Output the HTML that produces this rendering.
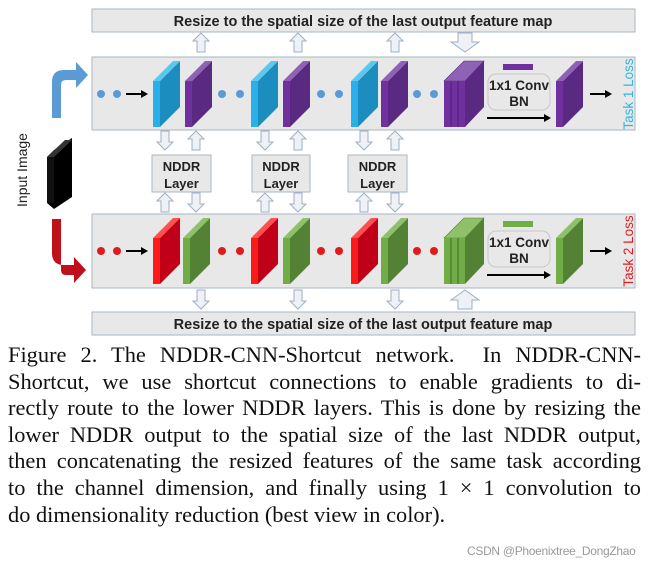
<!DOCTYPE html>
<html><head><meta charset="utf-8"><style>
html,body{margin:0;padding:0;background:#fff;width:650px;height:570px;overflow:hidden;position:relative}
svg{position:absolute;left:0;top:0}
.cap{position:absolute;left:8px;top:342px;width:633px;font-family:"Liberation Serif",serif;font-size:22.4px;line-height:26.6px;color:#111}
.cap div{white-space:nowrap;text-align:justify;text-align-last:justify}
.cap div.l{text-align-last:left}
.wm{position:absolute;left:467px;top:544px;font-family:"Liberation Sans",sans-serif;font-size:12px;color:#999;letter-spacing:-0.3px}
</style></head><body>
<svg width="650" height="340" viewBox="0 0 650 340" font-family="Liberation Sans, sans-serif">
<defs>
<g id="hu"><path d="M-4,17 L-4,6 L-8,6 L0,-2 L8,6 L4,6 L4,17 Z" fill="#eef1f5" stroke="#9fb0c4" stroke-width="1"/></g>
<g id="hd"><path d="M-4,-2 L-4,9 L-8,9 L0,17 L8,9 L4,9 L4,-2 Z" fill="#eef1f5" stroke="#9fb0c4" stroke-width="1"/></g>
<g id="bu"><path d="M-7,17 L-7,8 L-14,8 L0,-2 L14,8 L7,8 L7,17 Z" fill="#eef1f5" stroke="#9fb0c4" stroke-width="1"/></g>
<g id="bd"><path d="M-7,-2 L-7,7 L-14,7 L0,17 L14,7 L7,7 L7,-2 Z" fill="#eef1f5" stroke="#9fb0c4" stroke-width="1"/></g>
</defs>
<rect x="92" y="9" width="543" height="23" fill="#e8e8e8" stroke="#a9b6c6"/>
<text x="363" y="26" font-size="14.5" font-weight="bold" text-anchor="middle" fill="#222">Resize to the spatial size of the last output feature map</text>
<rect x="92" y="312" width="543" height="23" fill="#e8e8e8" stroke="#a9b6c6"/>
<text x="363" y="329" font-size="14.5" font-weight="bold" text-anchor="middle" fill="#222">Resize to the spatial size of the last output feature map</text>
<rect x="92" y="57" width="543" height="73" fill="#e8e8e8" stroke="#a9b6c6"/>
<rect x="92" y="214" width="543" height="74" fill="#e8e8e8" stroke="#a9b6c6"/>
<g font-size="13" font-weight="bold" fill="#222" text-anchor="middle">
<rect x="152" y="155" width="59" height="37" fill="#e8e8e8" stroke="#a9b6c6"/><text x="181.5" y="171">NDDR</text><text x="181.5" y="188">Layer</text>
<rect x="252" y="155" width="58" height="37" fill="#e8e8e8" stroke="#a9b6c6"/><text x="281" y="171">NDDR</text><text x="281" y="188">Layer</text>
<rect x="348" y="155" width="59" height="37" fill="#e8e8e8" stroke="#a9b6c6"/><text x="377.5" y="171">NDDR</text><text x="377.5" y="188">Layer</text>
</g>
<use href="#hu" x="201" y="35"/><use href="#hu" x="298" y="35"/><use href="#hu" x="395" y="35"/><use href="#bd" x="465" y="35"/>
<use href="#hd" x="165" y="133"/><use href="#hu" x="196" y="133"/>
<use href="#hd" x="265" y="133"/><use href="#hu" x="298" y="133"/>
<use href="#hd" x="364" y="133"/><use href="#hu" x="395" y="133"/>
<use href="#hu" x="165" y="195"/><use href="#hd" x="196" y="195"/>
<use href="#hu" x="265" y="195"/><use href="#hd" x="298" y="195"/>
<use href="#hu" x="364" y="195"/><use href="#hd" x="395" y="195"/>
<use href="#hd" x="201" y="292"/><use href="#hd" x="298" y="292"/><use href="#hd" x="395" y="292"/><use href="#bu" x="465" y="292"/>
<text transform="translate(27,170) rotate(-90)" font-size="14" text-anchor="middle" fill="#222">Input Image</text>
<path d="M47,157 L54,150 L72,138 L72,197 L54,209 L47,203 Z" fill="#000"/>
<path d="M47,157 L65,140 L72,140 L54,157 Z" fill="#333"/>
<rect x="47" y="157" width="7" height="46" fill="#111"/>
<path d="M52,118 L52,82 Q52,70 64,70 L76,70 L76,62 L88,75 L76,88 L76,80 L66,80 Q61,80 61,85 L61,118 Z" fill="#5b9bd5"/>
<path d="M52,224 L52,258 Q52,270 64,270 L74,270 L74,262 L86,275 L74,288 L74,280 L66,280 Q61,280 61,275 L61,224 Z" fill="#c0101b" transform="translate(0,-5)"/>
<g fill="#5b9bd5"><circle cx="101" cy="94" r="4"/><circle cx="117" cy="94" r="4"/><circle cx="222" cy="94" r="4"/><circle cx="240" cy="94" r="4"/><circle cx="321" cy="94" r="4"/><circle cx="339" cy="94" r="4"/><circle cx="417" cy="94" r="4"/><circle cx="434" cy="94" r="4"/></g>
<g fill="#e31a1c"><circle cx="101" cy="251" r="4"/><circle cx="117" cy="251" r="4"/><circle cx="222" cy="251" r="4"/><circle cx="240" cy="251" r="4"/><circle cx="321" cy="251" r="4"/><circle cx="339" cy="251" r="4"/><circle cx="417" cy="251" r="4"/><circle cx="434" cy="251" r="4"/></g>
<g stroke="#000" stroke-width="2"><line x1="126" y1="94" x2="142" y2="94"/><line x1="126" y1="251" x2="142" y2="251"/>
<line x1="487" y1="118" x2="545" y2="118"/><line x1="487" y1="275" x2="545" y2="275"/>
<line x1="590" y1="94" x2="606" y2="94"/><line x1="590" y1="251" x2="606" y2="251"/></g>
<g fill="#000"><path d="M148,94 l-7,-4 v8z"/><path d="M148,251 l-7,-4 v8z"/><path d="M551,118 l-7,-4 v8z"/><path d="M551,275 l-7,-4 v8z"/><path d="M612,94 l-7,-4 v8z"/><path d="M612,251 l-7,-4 v8z"/></g>
<g>
<g><path d="M160,81 L180,61 L180,107 L160,127Z" fill="#1b8dbf"/><path d="M153,81 L173,61 L180,61 L160,81Z" fill="#5cc8f0"/><rect x="153" y="81" width="7" height="46" fill="#29b0ea"/></g>
<g transform="translate(98,0)"><path d="M160,81 L180,61 L180,107 L160,127Z" fill="#1b8dbf"/><path d="M153,81 L173,61 L180,61 L160,81Z" fill="#5cc8f0"/><rect x="153" y="81" width="7" height="46" fill="#29b0ea"/></g>
<g transform="translate(198,0)"><path d="M160,81 L180,61 L180,107 L160,127Z" fill="#1b8dbf"/><path d="M153,81 L173,61 L180,61 L160,81Z" fill="#5cc8f0"/><rect x="153" y="81" width="7" height="46" fill="#29b0ea"/></g>
</g>
<g>
<g transform="translate(32,0)"><path d="M160,81 L180,61 L180,107 L160,127Z" fill="#5a2a82"/><path d="M153,81 L173,61 L180,61 L160,81Z" fill="#8e63b5"/><rect x="153" y="81" width="7" height="46" fill="#7030a0"/></g>
<g transform="translate(130,0)"><path d="M160,81 L180,61 L180,107 L160,127Z" fill="#5a2a82"/><path d="M153,81 L173,61 L180,61 L160,81Z" fill="#8e63b5"/><rect x="153" y="81" width="7" height="46" fill="#7030a0"/></g>
<g transform="translate(228,0)"><path d="M160,81 L180,61 L180,107 L160,127Z" fill="#5a2a82"/><path d="M153,81 L173,61 L180,61 L160,81Z" fill="#8e63b5"/><rect x="153" y="81" width="7" height="46" fill="#7030a0"/></g>
<g transform="translate(403,0)"><path d="M160,81 L180,61 L180,107 L160,127Z" fill="#5a2a82"/><path d="M153,81 L173,61 L180,61 L160,81Z" fill="#8e63b5"/><rect x="153" y="81" width="7" height="46" fill="#7030a0"/></g>
<path d="M465,81 L484,61 L484,107 L465,127Z" fill="#5a2a82"/>
<path d="M444,81 L464,61 L484,61 L465,81Z" fill="#8e63b5" stroke="#5a2a82" stroke-width="0.6"/>
<rect x="444" y="81" width="21" height="46" fill="#7030a0"/>
<line x1="451" y1="81" x2="451" y2="127" stroke="#4a1f6e"/><line x1="458" y1="81" x2="458" y2="127" stroke="#4a1f6e"/>
<rect x="503" y="64" width="30" height="6" fill="#7030a0"/>
</g>
<g transform="translate(0,157)">
<g><path d="M160,81 L180,61 L180,107 L160,127Z" fill="#c00018"/><path d="M153,81 L173,61 L180,61 L160,81Z" fill="#ff5050"/><rect x="153" y="81" width="7" height="46" fill="#ff1a1a"/></g>
<g transform="translate(98,0)"><path d="M160,81 L180,61 L180,107 L160,127Z" fill="#c00018"/><path d="M153,81 L173,61 L180,61 L160,81Z" fill="#ff5050"/><rect x="153" y="81" width="7" height="46" fill="#ff1a1a"/></g>
<g transform="translate(198,0)"><path d="M160,81 L180,61 L180,107 L160,127Z" fill="#c00018"/><path d="M153,81 L173,61 L180,61 L160,81Z" fill="#ff5050"/><rect x="153" y="81" width="7" height="46" fill="#ff1a1a"/></g>
<g transform="translate(30,0)"><path d="M160,81 L180,61 L180,107 L160,127Z" fill="#548235"/><path d="M153,81 L173,61 L180,61 L160,81Z" fill="#8fc06a"/><rect x="153" y="81" width="7" height="46" fill="#70ad47"/></g>
<g transform="translate(130,0)"><path d="M160,81 L180,61 L180,107 L160,127Z" fill="#548235"/><path d="M153,81 L173,61 L180,61 L160,81Z" fill="#8fc06a"/><rect x="153" y="81" width="7" height="46" fill="#70ad47"/></g>
<g transform="translate(228,0)"><path d="M160,81 L180,61 L180,107 L160,127Z" fill="#548235"/><path d="M153,81 L173,61 L180,61 L160,81Z" fill="#8fc06a"/><rect x="153" y="81" width="7" height="46" fill="#70ad47"/></g>
<g transform="translate(403,0)"><path d="M160,81 L180,61 L180,107 L160,127Z" fill="#548235"/><path d="M153,81 L173,61 L180,61 L160,81Z" fill="#8fc06a"/><rect x="153" y="81" width="7" height="46" fill="#70ad47"/></g>
<path d="M465,81 L484,61 L484,107 L465,127Z" fill="#548235"/>
<path d="M444,81 L464,61 L484,61 L465,81Z" fill="#8fc06a" stroke="#548235" stroke-width="0.6"/>
<rect x="444" y="81" width="21" height="46" fill="#70ad47"/>
<line x1="451" y1="81" x2="451" y2="127" stroke="#3f6b28"/><line x1="458" y1="81" x2="458" y2="127" stroke="#3f6b28"/>
<rect x="503" y="64" width="30" height="6" fill="#70ad47"/>
</g>
<g font-size="13.5" font-weight="bold" fill="#222" text-anchor="middle">
<rect x="488" y="74" width="62" height="36" rx="8" fill="none" stroke="#c8c8c8"/>
<text x="519" y="90">1x1 Conv</text><text x="519" y="106">BN</text>
<rect x="488" y="231" width="62" height="36" rx="8" fill="none" stroke="#c8c8c8"/>
<text x="519" y="247">1x1 Conv</text><text x="519" y="263">BN</text>
</g>
<text transform="translate(633,94) rotate(-90)" font-size="13.5" text-anchor="middle" fill="#2fb4e6">Task 1 Loss</text>
<text transform="translate(633,251) rotate(-90)" font-size="13.5" text-anchor="middle" fill="#e31a1c">Task 2 Loss</text>
</svg>
<div class="cap">
<div>Figure 2. The NDDR-CNN-Shortcut network.&nbsp; In NDDR-CNN-</div>
<div>Shortcut, we use shortcut connections to enable gradients to di-</div>
<div>rectly route to the lower NDDR layers. This is done by resizing the</div>
<div>lower NDDR output to the spatial size of the last NDDR output,</div>
<div>then concatenating the resized features of the same task according</div>
<div>to the channel dimension, and finally using 1 &times; 1 convolution to</div>
<div class="l">do dimensionality reduction (best view in color).</div>
</div>
<div class="wm">CSDN @Phoenixtree_DongZhao</div>
</body></html>
